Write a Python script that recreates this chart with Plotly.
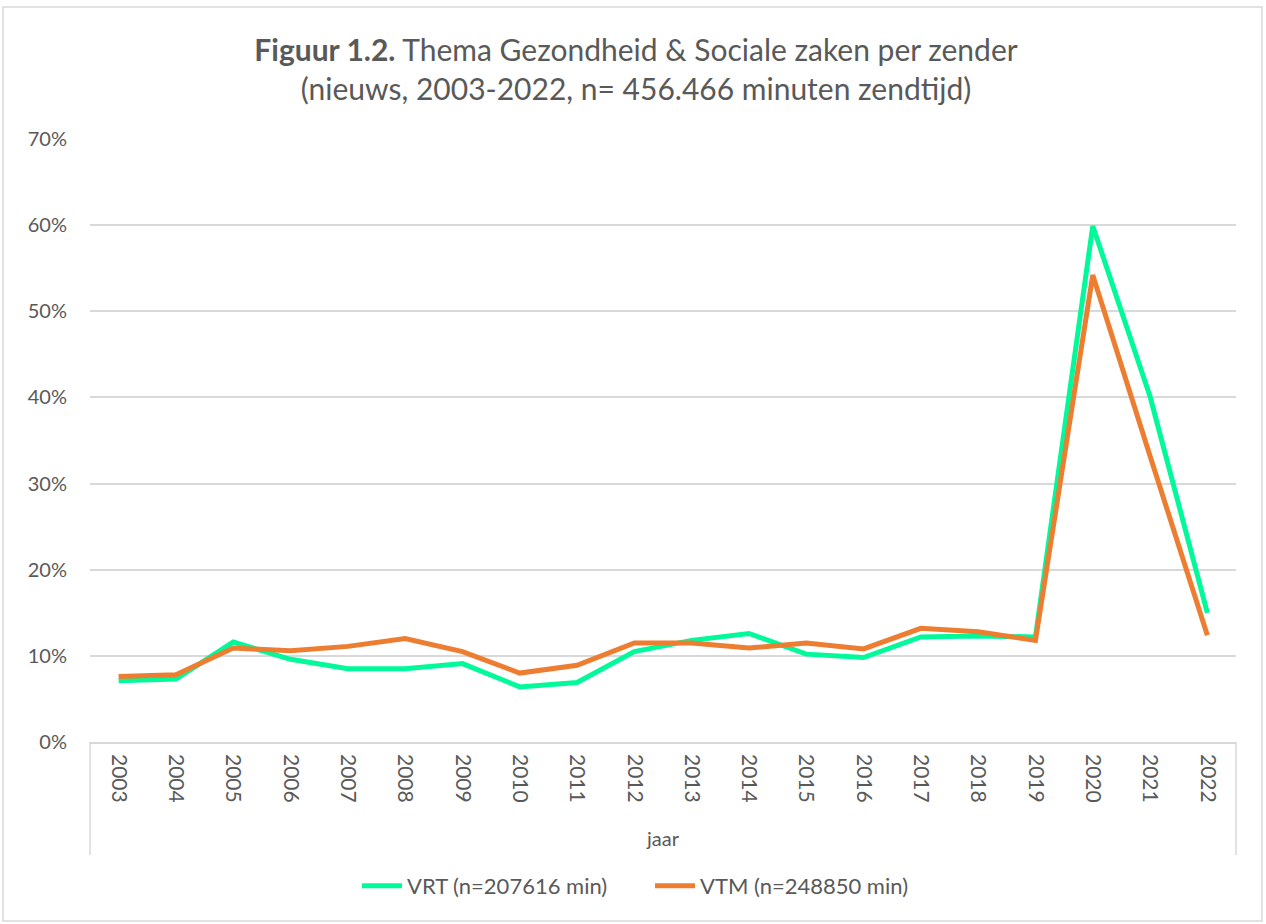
import plotly.graph_objects as go

years = [str(y) for y in range(2003, 2023)]
vrt = [7.1, 7.3, 11.6, 9.6, 8.5, 8.5, 9.1, 6.4, 6.9, 10.5, 11.8, 12.6, 10.2, 9.8, 12.2, 12.3, 12.2, 59.9, 40.1, 15.0]
vtm = [7.6, 7.8, 10.9, 10.6, 11.1, 12.0, 10.5, 8.0, 8.9, 11.5, 11.5, 10.9, 11.5, 10.8, 13.2, 12.8, 11.8, 54.2, 33.2, 12.4]
vrt_name = "VRT (n=207616 min)"
vtm_name = "VTM (n=248850 min)"
title_bold = "Figuur 1.2."
title_rest = " Thema Gezondheid & Sociale zaken per zender"
subtitle = "(nieuws, 2003-2022, n= 456.466 minuten zendtijd)"
y_ticks = [0, 10, 20, 30, 40, 50, 60, 70]
x_title = "jaar"

FONT = "Lato"
TXT = "#595959"
GRID = "#d9d9d9"

fig = go.Figure()
fig.add_trace(go.Scatter(x=years, y=[v / 100 for v in vrt], name=vrt_name, mode="lines",
                         line=dict(color="#00FA9A", width=5)))
fig.add_trace(go.Scatter(x=years, y=[v / 100 for v in vtm], name=vtm_name, mode="lines",
                         line=dict(color="#ED7D31", width=5)))

W, H = 1266, 924
L, R, T, B = 90, 1236, 139, 742
pw, ph = R - L, B - T

def px(x):
    return (x - L) / pw

def py(y):
    return (B - y) / ph

shapes = [
    dict(type="rect", xref="paper", yref="paper", x0=px(3), x1=px(1262), y0=py(921), y1=py(7),
         line=dict(color=GRID, width=1.5), fillcolor="rgba(0,0,0,0)", layer="below"),
    dict(type="line", xref="paper", yref="paper", x0=0, x1=0, y0=0, y1=py(855),
         line=dict(color=GRID, width=1.5)),
    dict(type="line", xref="paper", yref="paper", x0=1, x1=1, y0=0, y1=py(855),
         line=dict(color=GRID, width=1.5)),
]

fig.update_layout(
    width=W, height=H,
    margin=dict(l=L, r=W - R, t=T, b=H - B),
    paper_bgcolor="white", plot_bgcolor="white",
    font=dict(family=FONT, color=TXT, size=20),
    title=dict(text=f"<b>{title_bold}</b>{title_rest}<br>{subtitle}",
               x=636 / W, xref="container", xanchor="center", y=1 - 61 / H, yref="container",
               yanchor="middle", font=dict(family=FONT, size=30, color=TXT)),
    shapes=shapes,
    showlegend=True,
    legend=dict(orientation="h", x=px(650), xanchor="center", y=py(886), yanchor="middle",
                font=dict(family=FONT, size=22, color=TXT), itemwidth=40,
                entrywidth=238, entrywidthmode="pixels"),
    xaxis=dict(type="category", range=[-0.5, len(years) - 0.5], tickangle=90, showgrid=False,
               showline=True, linecolor=GRID, linewidth=1.5, ticks="", ticklabelstandoff=6,
               tickfont=dict(size=21, color=TXT),
               title=dict(text=x_title, font=dict(size=20, color=TXT), standoff=30)),
    yaxis=dict(range=[0, 0.7], tickvals=[t / 100 for t in y_ticks],
               ticktext=[f"{t}%" for t in y_ticks], showgrid=True, gridcolor=GRID, gridwidth=1.5,
               zeroline=False, showline=False, ticks="", ticklabelstandoff=22,
               tickfont=dict(size=20, color=TXT)),
)

fig.write_html("out.html", config={"displayModeBar": False},
               post_script="document.body.style.margin='0';")
